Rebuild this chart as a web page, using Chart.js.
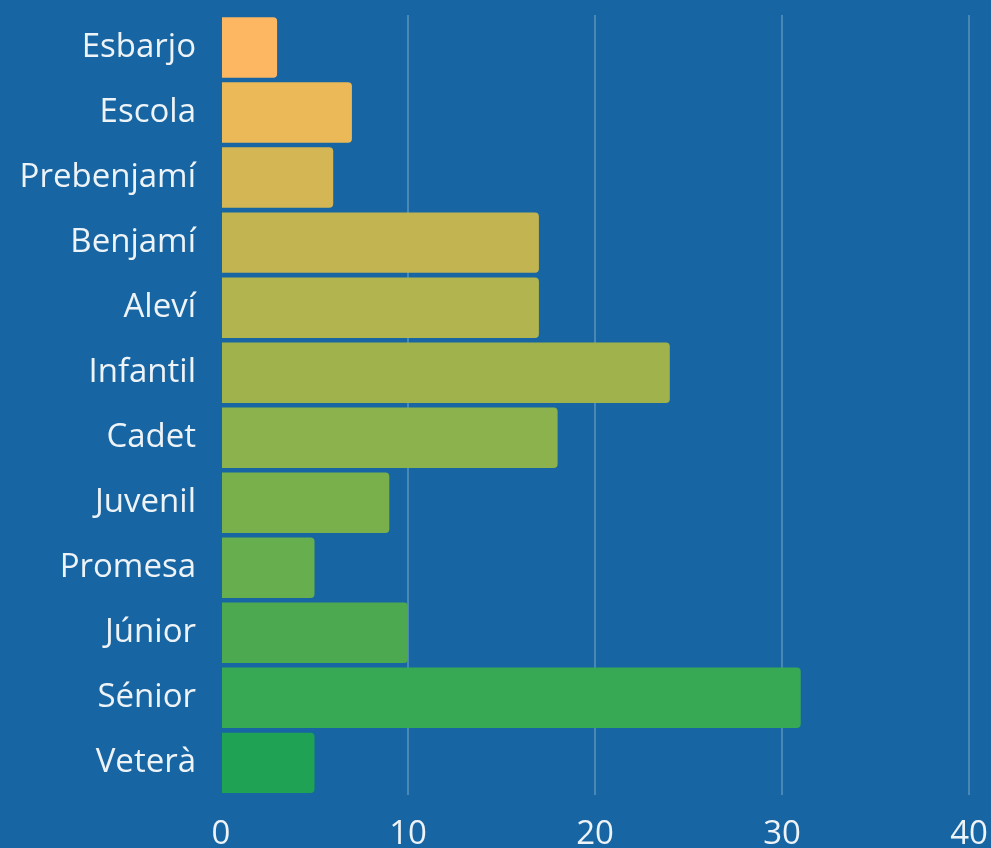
<!DOCTYPE html>
<html>
<head>
<meta charset="utf-8">
<script src="https://cdn.jsdelivr.net/npm/chart.js@4"></script>
<style>
  html, body { margin: 0; padding: 0; background: #1766a3; overflow: hidden; }
  #wrap { width: 991px; height: 881px; }
</style>
</head>
<body>
<div id="wrap"><canvas id="myChart" width="991" height="881"></canvas></div>
<script>
const categories = ["Esbarjo", "Escola", "Prebenjamí", "Benjamí", "Aleví", "Infantil", "Cadet", "Juvenil", "Promesa", "Júnior", "Sénior", "Veterà"];
const values = [3, 7, 6, 17, 17, 24, 18, 9, 5, 10, 31, 5];
const xTicks = [0, 10, 20, 30, 40];
const barColors = ["#fdb762", "#ebb957", "#d4b654", "#c2b450", "#b2b54f", "#a0b24b", "#8bb24c", "#79b04c", "#66ae4e", "#4ca94f", "#37a853", "#1fa254"];

const textColor = "#eef3f7";
const fontFamily = "'Open Sans', Lato, sans-serif";

new Chart("myChart", {
  type: "bar",
  data: {
    labels: categories,
    datasets: [{
      data: values,
      backgroundColor: barColors,
      borderRadius: 4,
      barPercentage: 0.93,
      categoryPercentage: 1
    }]
  },
  options: {
    indexAxis: "y",
    responsive: false,
    animation: false,
    layout: { padding: { top: 15, right: 22, bottom: 8, left: 0 } },
    plugins: { legend: { display: false }, tooltip: { enabled: false } },
    scales: {
      x: {
        min: xTicks[0],
        max: xTicks[xTicks.length - 1],
        afterBuildTicks: function(scale) {
          scale.ticks = xTicks.map(v => ({ value: v }));
        },
        afterFit: function(scale) {
          scale.paddingLeft = 0;
          scale.paddingRight = 0;
        },
        border: { display: false },
        grid: {
          drawTicks: false,
          lineWidth: 2,
          color: ctx => ctx.index === 0 ? "rgba(0,0,0,0)" : "rgba(255,255,255,0.22)"
        },
        ticks: {
          padding: 19,
          color: textColor,
          font: { family: fontFamily, size: 33 }
        }
      },
      y: {
        border: { display: false },
        grid: { display: false, drawTicks: false },
        afterFit: function(scale) {
          scale.width = 221;
          scale.paddingTop = 0;
          scale.paddingBottom = 0;
        },
        ticks: {
          padding: 25,
          color: textColor,
          font: { family: fontFamily, size: 33 }
        }
      }
    }
  }
});
</script>
</body>
</html>
